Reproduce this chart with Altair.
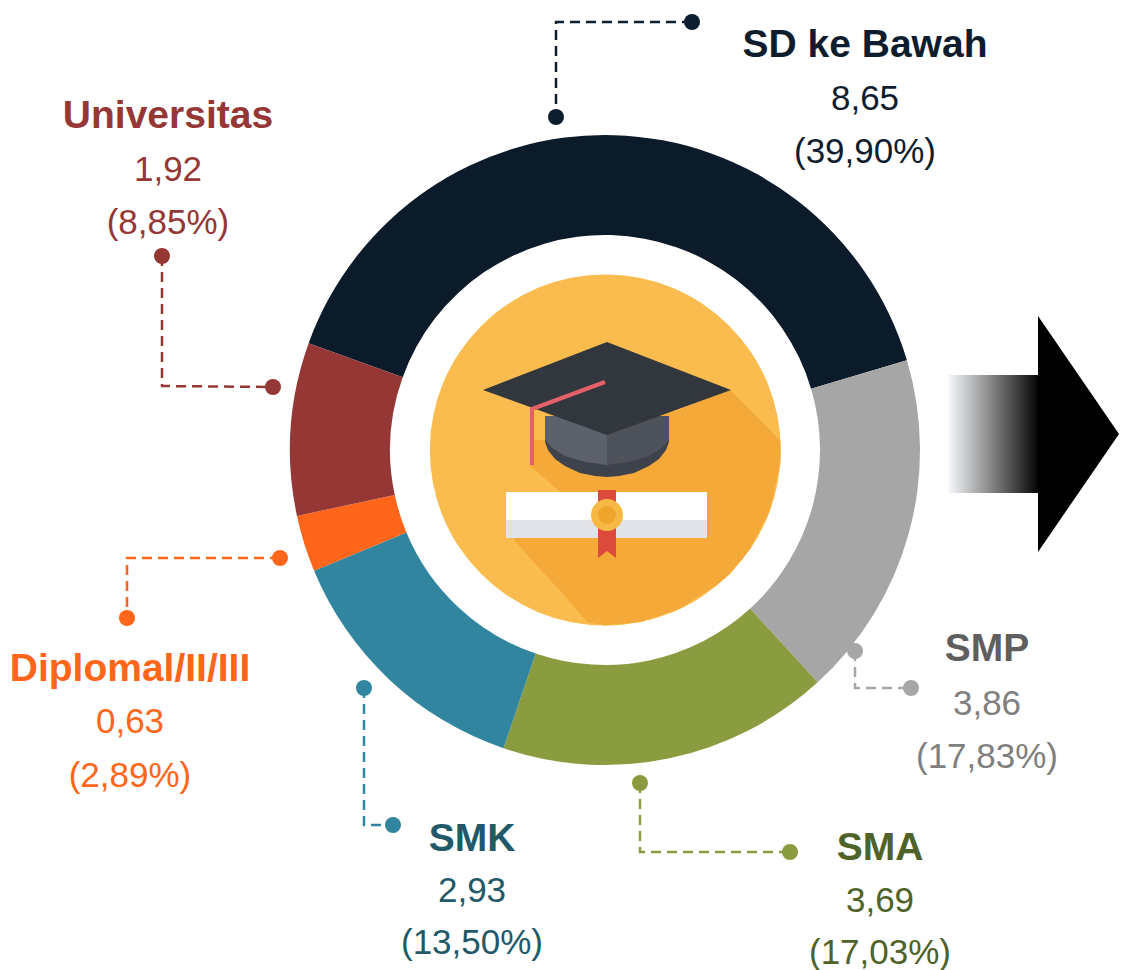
import math
import altair as alt
import pandas as pd

# ---- donut data ----
categories = ["SD ke Bawah", "SMP", "SMA", "SMK", "Diplomal/II/III", "Universitas"]
values = [8.65, 3.86, 3.69, 2.93, 0.63, 1.92]
value_labels = ["8,65", "3,86", "3,69", "2,93", "0,63", "1,92"]
pct_labels = ["(39,90%)", "(17,83%)", "(17,03%)", "(13,50%)", "(2,89%)", "(8,85%)"]
slice_colors = ["#0C1B2A", "#A6A6A6", "#8A9C3F", "#31859F", "#FF661A", "#953735"]
name_colors = ["#0E1D2D", "#5F5F5F", "#4F6228", "#215968", "#FF661A", "#953735"]
text_colors = ["#0E1D2D", "#7F7F7F", "#4F6228", "#215968", "#FF661A", "#953735"]

# label anchors: x, and y of name / value / percent lines
label_x = [865, 987, 880, 472, 130, 168]
name_y = [45, 649, 848, 839, 669, 116]
value_y = [99, 704, 901, 891, 722, 170]
pct_y = [152, 757, 953, 943, 776, 223]

# leader lines: dot, corner, dot
leaders = [
    [(692, 22), (556, 22), (556, 117)],
    [(855, 651), (855, 688), (911, 688)],
    [(640, 783), (640, 852), (790, 852)],
    [(364, 688), (364, 825), (393, 825)],
    [(280, 558), (127, 558), (127, 618)],
    [(162, 256), (162, 386), (273, 387)],
]

FONT = "Liberation Sans"
X = alt.Scale(domain=[8, 1119], nice=False, zero=False)
Y = alt.Scale(domain=[970, 8], nice=False, zero=False)
xe = lambda f="x": alt.X(f"{f}:Q", scale=X, axis=None)
ye = lambda f="y": alt.Y(f"{f}:Q", scale=Y, axis=None)
CX, CY = 605 - 8, 450 - 8
START = math.radians(-70.2)

layers = []

df = pd.DataFrame({"cat": categories, "value": values, "order": range(6), "color": slice_colors})
layers.append(
    alt.Chart(df).mark_arc(outerRadius=315, innerRadius=215).encode(
        theta=alt.Theta("value:Q", stack=True, scale=alt.Scale(range=[START, START + 2 * math.pi])),
        order=alt.Order("order:Q"),
        color=alt.Color("color:N", scale=None),
        x=alt.value(CX),
        y=alt.value(CY),
    )
)


def area(rows, color):
    d = pd.DataFrame(rows, columns=["x", "y", "y2"])
    return alt.Chart(d).mark_area(color=color, interpolate="linear", clip=False).encode(
        x=xe(), y=ye(), y2=alt.Y2("y2:Q")
    )


def disc(x, y, diameter, color):
    d = pd.DataFrame({"x": [x], "y": [y]})
    return alt.Chart(d).mark_point(filled=True, shape="circle", size=diameter ** 2, color=color, opacity=1).encode(
        x=xe(), y=ye()
    )


# ---- centre icon ----
layers.append(disc(605.3, 450, 351, "#FBBC4F"))
shadow_main = [
    (515, 538, 541), (530, 520, 558), (562.9, 500, 594), (563, 440, 594), (587, 430, 622), (605, 425, 625.5),
    (640, 420, 622), (680, 410, 608.7), (720, 392, 582.6), (730, 390, 574), (750, 410, 549),
    (770, 430, 510), (780.5, 441, 462),
]
shadow_tassel = [(530, 440, 466), (563, 440, 494)]
layers.append(area(shadow_main, "#F4A938"))
layers.append(area(shadow_tassel, "#F4A938"))

# cap body
layers.append(area([(545, 416, 442), (548, 416, 450), (555, 416, 459), (565, 416, 466), (580, 416, 473),
                    (595, 416, 476), (607, 416, 477), (619, 416, 476), (634, 416, 473), (649, 416, 466),
                    (659, 416, 459), (666, 416, 450), (669, 416, 442)], "#3E424A"))
layers.append(area([(545, 416, 440), (552, 416, 448), (565, 416, 456), (585, 416, 462), (607, 416, 465)], "#5C616B"))
layers.append(area([(607, 416, 465), (629, 416, 462), (649, 416, 456), (662, 416, 448), (669, 416, 440)], "#4E525B"))
# mortarboard
layers.append(area([(483, 390, 390), (607, 342, 435), (731, 390, 390)], "#32363D"))
# tassel
tassel = pd.DataFrame({"x": [605, 532, 532], "y": [382, 409, 465], "o": [0, 1, 2]})
layers.append(alt.Chart(tassel).mark_line(color="#E4606A", strokeWidth=4).encode(
    x=xe(), y=ye(), order="o:Q"))
# diploma
layers.append(area([(506, 492, 520), (707, 492, 520)], "#FFFFFF"))
layers.append(area([(506, 520, 538), (707, 520, 538)], "#E2E3E8"))
layers.append(area([(598, 490, 558), (607, 490, 551), (616, 490, 558)], "#DC4A3C"))
layers.append(disc(607, 515, 32, "#F6B944"))
layers.append(disc(607, 515, 18, "#EFA52C"))

# ---- arrow ----
layers.append(
    alt.Chart(pd.DataFrame({"x": [948], "x2": [1040], "y": [375], "y2": [493]})).mark_rect(
        color=alt.Gradient(
            gradient="linear", x1=0, x2=1, y1=0, y2=0,
            stops=[
                alt.GradientStop(offset=0, color="#F7FAFD"),
                alt.GradientStop(offset=0.5, color="#7E7E7E"),
                alt.GradientStop(offset=1, color="#000000"),
            ],
        )
    ).encode(x=xe(), x2=alt.X2("x2:Q"), y=ye(), y2=alt.Y2("y2:Q"))
)
layers.append(area([(1038, 316, 552), (1119, 434, 434)], "#000000"))

# ---- leaders ----
for pts, c in zip(leaders, slice_colors):
    if c == "#0C1B2A":
        c = "#0E1D2D"
    d = pd.DataFrame({"x": [p[0] for p in pts], "y": [p[1] for p in pts], "o": [0, 1, 2]})
    layers.append(alt.Chart(d).mark_line(color=c, strokeWidth=2.5, strokeDash=[10, 6]).encode(
        x=xe(), y=ye(), order="o:Q"))
    layers.append(disc(pts[0][0], pts[0][1], 16, c))
    layers.append(disc(pts[2][0], pts[2][1], 16, c))

# ---- labels ----
labels = pd.DataFrame({
    "x": label_x, "name_y": name_y, "value_y": value_y, "pct_y": pct_y,
    "name": categories, "val": value_labels, "pct": pct_labels,
    "nc": name_colors, "tc": text_colors,
})
layers.append(alt.Chart(labels).mark_text(font=FONT, fontWeight="bold", fontSize=39, baseline="middle", align="center").encode(
    x=xe(), y=ye("name_y"), text="name:N", color=alt.Color("nc:N", scale=None)))
layers.append(alt.Chart(labels).mark_text(font=FONT, fontSize=35, baseline="middle", align="center").encode(
    x=xe(), y=ye("value_y"), text="val:N", color=alt.Color("tc:N", scale=None)))
layers.append(alt.Chart(labels).mark_text(font=FONT, fontSize=35, baseline="middle", align="center").encode(
    x=xe(), y=ye("pct_y"), text="pct:N", color=alt.Color("tc:N", scale=None)))

chart = (
    alt.layer(*layers)
    .resolve_scale(theta="independent", color="independent")
    .properties(width=1111, height=962, padding=0, autosize=alt.AutoSizeParams(type="none"), background="#FFFFFF")
    .configure_view(stroke=None)
)
chart.save("out.html", embed_options={"renderer": "svg", "actions": False})
